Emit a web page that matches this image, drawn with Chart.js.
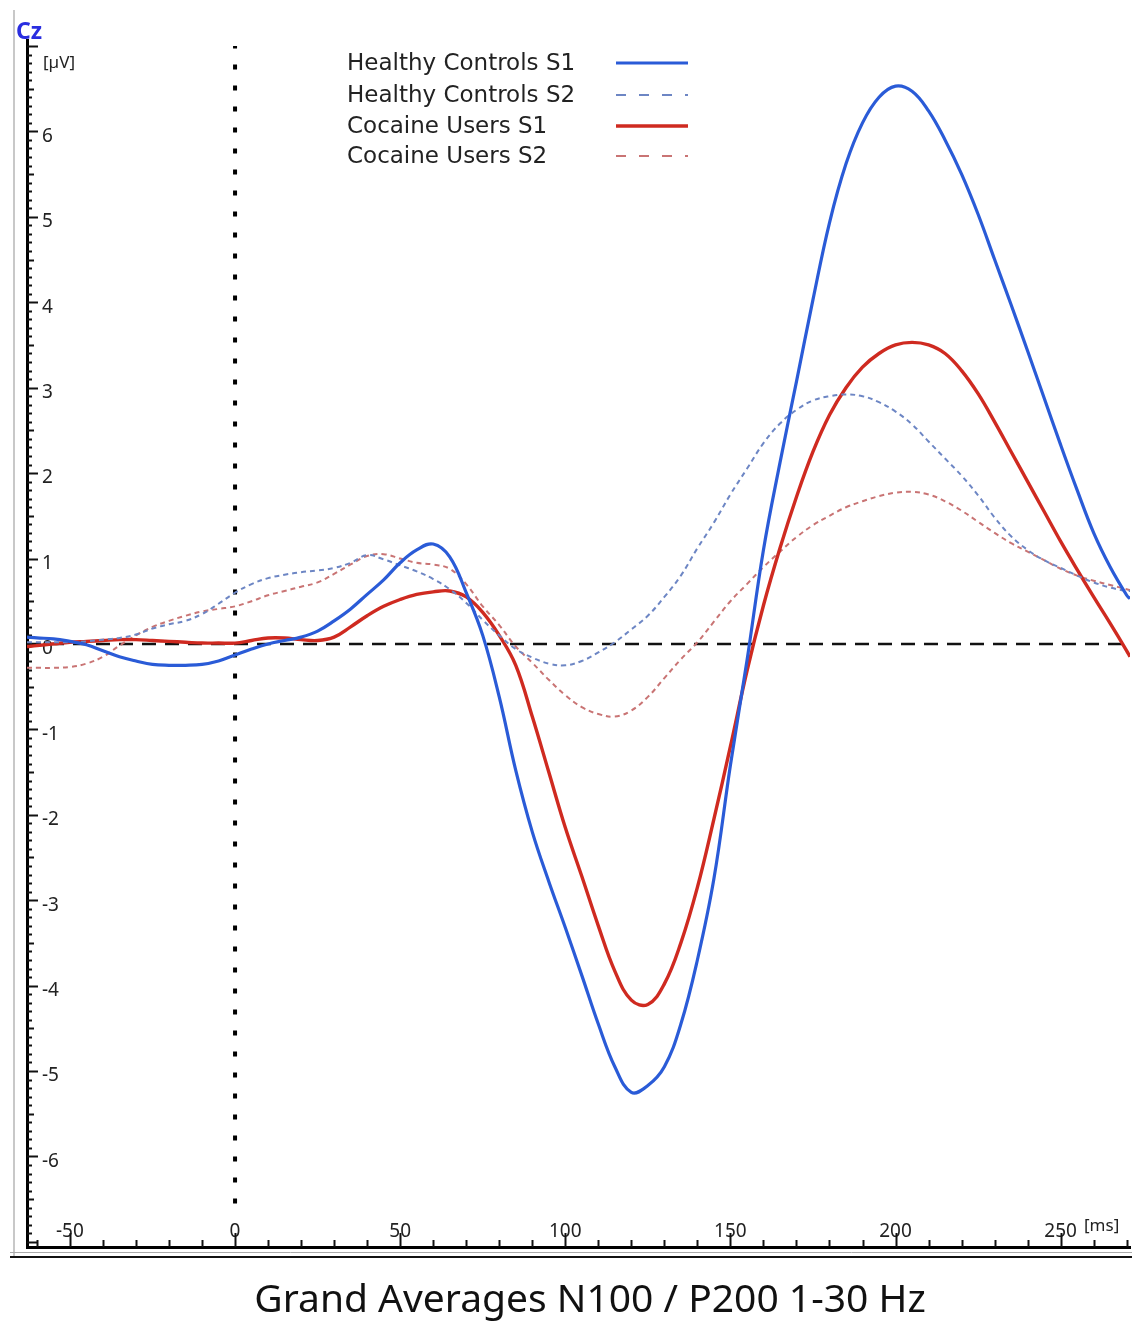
<!DOCTYPE html>
<html>
<head>
<meta charset="utf-8">
<script src="https://cdn.jsdelivr.net/npm/chart.js@4.4.1/dist/chart.umd.min.js"></script>
<style>
  html, body { margin: 0; padding: 0; background: #fff; }
  #wrap { width: 1132px; height: 1325px; }
</style>
</head>
<body>
<div id="wrap"><canvas id="erpChart" width="1132" height="1325"></canvas></div>
<script>
// Grand average ERPs at Cz (ms / µV)
const times = [-63, -60, -55, -50, -45, -40, -35, -30, -25, -20, -15, -10, -5, 0, 5, 10, 15, 20, 25, 30, 35,
  40, 45, 50, 55, 60, 65, 70, 75, 80, 85, 90, 95, 100, 105, 110, 115, 120, 125, 130, 135, 140, 145, 150,
  155, 160, 165, 170, 175, 180, 185, 190, 195, 200, 205, 210, 215, 220, 225, 230, 235, 240, 245, 250,
  255, 260, 265, 270, 271];

const healthyS1 = [0.08, 0.07, 0.06, 0.03, -0.01, -0.08, -0.15, -0.2, -0.24, -0.25, -0.25, -0.24, -0.2, -0.13,
  -0.06, 0.0, 0.04, 0.08, 0.15, 0.27, 0.41, 0.58, 0.75, 0.95, 1.1, 1.17, 1.02, 0.6, 0.1, -0.62, -1.48,
  -2.2, -2.78, -3.32, -3.88, -4.45, -4.95, -5.25, -5.17, -4.95, -4.45, -3.7, -2.75, -1.42, -0.2, 1.1,
  2.12, 3.07, 4.03, 4.93, 5.62, 6.1, 6.4, 6.53, 6.47, 6.24, 5.9, 5.5, 5.03, 4.5, 3.97, 3.43, 2.88,
  2.33, 1.8, 1.3, 0.9, 0.57, 0.53];

const healthyS2 = [0.02, 0.02, 0.02, 0.02, 0.03, 0.05, 0.07, 0.11, 0.18, 0.23, 0.27, 0.35, 0.47, 0.6, 0.7,
  0.77, 0.81, 0.84, 0.86, 0.89, 0.95, 1.04, 0.99, 0.92, 0.85, 0.76, 0.64, 0.48, 0.28, 0.1, -0.06, -0.16,
  -0.23, -0.25, -0.2, -0.1, 0.02, 0.17, 0.33, 0.55, 0.8, 1.12, 1.42, 1.75, 2.05, 2.35, 2.58, 2.74, 2.85,
  2.9, 2.92, 2.9, 2.83, 2.72, 2.57, 2.37, 2.17, 1.97, 1.74, 1.48, 1.26, 1.1, 0.98, 0.89, 0.8, 0.72,
  0.66, 0.62, 0.62];

const cocaineS1 = [-0.03, -0.02, 0.0, 0.02, 0.03, 0.04, 0.05, 0.05, 0.04, 0.03, 0.02, 0.01, 0.01, 0.01, 0.04,
  0.07, 0.07, 0.05, 0.04, 0.08, 0.2, 0.33, 0.44, 0.52, 0.58, 0.61, 0.62, 0.55, 0.37, 0.1, -0.25, -0.85,
  -1.5, -2.15, -2.72, -3.3, -3.83, -4.17, -4.22, -3.98, -3.5, -2.85, -2.05, -1.2, -0.32, 0.45, 1.12,
  1.72, 2.25, 2.68, 3.0, 3.24, 3.4, 3.5, 3.53, 3.5, 3.4, 3.2, 2.93, 2.6, 2.25, 1.9, 1.55, 1.2, 0.87,
  0.55, 0.24, -0.08, -0.15];

const cocaineS2 = [-0.28, -0.28, -0.28, -0.27, -0.23, -0.15, -0.02, 0.1, 0.2, 0.27, 0.33, 0.38, 0.41, 0.44,
  0.5, 0.57, 0.62, 0.67, 0.72, 0.82, 0.93, 1.03, 1.05, 1.0, 0.95, 0.93, 0.88, 0.7, 0.44, 0.22, -0.03,
  -0.22, -0.42, -0.6, -0.74, -0.82, -0.85, -0.78, -0.62, -0.4, -0.18, 0.02, 0.26, 0.5, 0.7, 0.9, 1.08,
  1.25, 1.39, 1.5, 1.6, 1.67, 1.73, 1.77, 1.78, 1.75, 1.67, 1.56, 1.43, 1.3, 1.18, 1.08, 0.98, 0.88,
  0.8, 0.74, 0.69, 0.64, 0.63];

const seriesNames = ['Healthy Controls S1', 'Healthy Controls S2', 'Cocaine Users S1', 'Cocaine Users S2'];

// tick labels
const xTickValues = [-50, 0, 50, 100, 150, 200, 250];
const yTickValues = [-6, -5, -4, -3, -2, -1, 0, 1, 2, 3, 4, 5, 6];

const chartTitle = 'Grand Averages N100 / P200 1-30 Hz';

const FONT = "'Noto Sans', 'Open Sans', sans-serif";
const LEGEND_FONT = "'DejaVu Sans', 'Noto Sans', sans-serif";

function toPoints(values) {
  return times.map((t, i) => ({ x: t, y: values[i] }));
}

function curve(label, values, color, width, dash) {
  return {
    label: label,
    data: toPoints(values),
    borderColor: color,
    borderWidth: width,
    borderDash: dash,
    pointRadius: 0,
    tension: 0.4,
    fill: false,
    inLegend: true
  };
}

// Dotted line at stimulus onset and dashed baseline
const onsetLine = {
  data: [{ x: 0, y: -6.55 }, { x: 0, y: 7.0 }],
  borderColor: '#000', borderWidth: 4, borderDash: [5, 16], pointRadius: 0
};
const baseLine = {
  data: [{ x: -63, y: 0 }, { x: 271, y: 0 }],
  borderColor: '#111', borderWidth: 2.5, borderDash: [14, 9], pointRadius: 0
};

//Draw axis ticks, frame, units, title and the legend
const decorPlugin = {
  id: 'decor',
  beforeDatasetsDraw(chart) {
    const ctx = chart.ctx;
    const xs = chart.scales.x;
    const ys = chart.scales.y;
    const area = chart.chartArea;
    ctx.save();
    // outer frame
    ctx.strokeStyle = '#c8c8c8';
    ctx.lineWidth = 2;
    ctx.beginPath();
    ctx.moveTo(14, 10);
    ctx.lineTo(14, 1257);
    ctx.stroke();
    ctx.strokeStyle = '#aaa';
    ctx.lineWidth = 1;
    ctx.beginPath();
    ctx.moveTo(10, 1252.5);
    ctx.lineTo(1132, 1252.5);
    ctx.stroke();
    ctx.strokeStyle = '#111';
    ctx.lineWidth = 2;
    ctx.beginPath();
    ctx.moveTo(10, 1257);
    ctx.lineTo(1132, 1257);
    ctx.stroke();

    // y ticks every 0.1 µV
    ctx.strokeStyle = '#111';
    ctx.lineWidth = 2;
    for (let k = -70; k <= 70; k++) {
      const py = Math.round(ys.getPixelForValue(k / 10)) + 0.5;
      if (py < area.top + 4) continue;
      const len = k % 10 === 0 ? 11 : (k % 5 === 0 ? 7 : 5);
      ctx.beginPath();
      ctx.moveTo(area.left, py);
      ctx.lineTo(area.left + len, py);
      ctx.stroke();
    }
    // x ticks every 10 ms
    for (let t = -60; t <= 270; t += 10) {
      const px = Math.round(xs.getPixelForValue(t)) + 0.5;
      const len = t % 50 === 0 ? 14 : 7;
      ctx.beginPath();
      ctx.moveTo(px, area.bottom);
      ctx.lineTo(px, area.bottom - len);
      ctx.stroke();
    }
    ctx.restore();
  },
  afterDraw(chart) {
    const ctx = chart.ctx;
    ctx.save();
    ctx.textBaseline = 'middle';
    ctx.fillStyle = '#2a2ee0';
    ctx.font = "bold 23px " + FONT;
    ctx.textAlign = 'left';
    ctx.fillText('Cz', 16, 32);
    ctx.fillStyle = '#222';
    ctx.font = "17px " + FONT;
    ctx.fillText('[µV]', 43, 63);
    ctx.fillText('[ms]', 1084, 1226);

    // title under the axis
    ctx.fillStyle = '#111';
    ctx.font = "39px " + FONT;
    ctx.textAlign = 'center';
    ctx.fillText(chartTitle, 590, 1301);
    ctx.textAlign = 'left';

    // legend, line sample to the right of the text
    const rows = [64, 96, 127, 157];
    const items = chart.data.datasets.filter(d => d.inLegend);
    ctx.font = "23px " + LEGEND_FONT;
    items.forEach((d, i) => {
      ctx.fillStyle = '#222';
      ctx.fillText(d.label, 347, rows[i]);
      ctx.strokeStyle = d.borderColor;
      ctx.lineWidth = d.borderDash.length ? 1.8 : d.borderWidth;
      ctx.setLineDash(d.borderDash.length ? [10, 13] : []);
      ctx.beginPath();
      ctx.moveTo(616, rows[i] - 1);
      ctx.lineTo(688, rows[i] - 1);
      ctx.stroke();
    });
    ctx.restore();
  }
};

const ctx = document.getElementById('erpChart');
const erpChart = new Chart(ctx, {
  type: 'line',
  data: {
    datasets: [
      curve(seriesNames[0], healthyS1, '#2a5bd7', 3.2, []),
      curve(seriesNames[1], healthyS2, '#6d86c4', 2, [5, 4]),
      curve(seriesNames[2], cocaineS1, '#cf2a20', 3.4, []),
      curve(seriesNames[3], cocaineS2, '#c97474', 2, [5, 4]),
      baseLine,
      onsetLine
    ]
  },
  options: {
    responsive: false,
    animation: false,
    layout: { padding: { left: 27, right: 2, top: 40, bottom: 78 } },
    plugins: {
      legend: { display: false },
      tooltip: { enabled: false },
      title: { display: false }
    },
    scales: {
      x: {
        type: 'linear',
        min: -63,
        max: 271,
        grid: { display: false, drawTicks: false },
        border: { display: true, color: '#000', width: 3 },
        afterBuildTicks: s => { s.ticks = xTickValues.map(v => ({ value: v })); },
        afterFit: s => { s.height = 0; },
        ticks: {
          mirror: true,
          padding: 4,
          color: '#222',
          font: { family: FONT, size: 19 },
          maxRotation: 0,
          autoSkip: false
        }
      },
      y: {
        type: 'linear',
        min: -7.06,
        max: 7.07,
        grid: { display: false, drawTicks: false },
        border: { display: true, color: '#000', width: 3 },
        afterBuildTicks: s => { s.ticks = yTickValues.map(v => ({ value: v })); },
        afterFit: s => { s.width = 0; },
        ticks: {
          mirror: true,
          padding: 15,
          labelOffset: 5,
          color: '#222',
          font: { family: FONT, size: 19 },
          autoSkip: false
        }
      }
    }
  },
  plugins: [decorPlugin]
});
</script>
</body>
</html>
